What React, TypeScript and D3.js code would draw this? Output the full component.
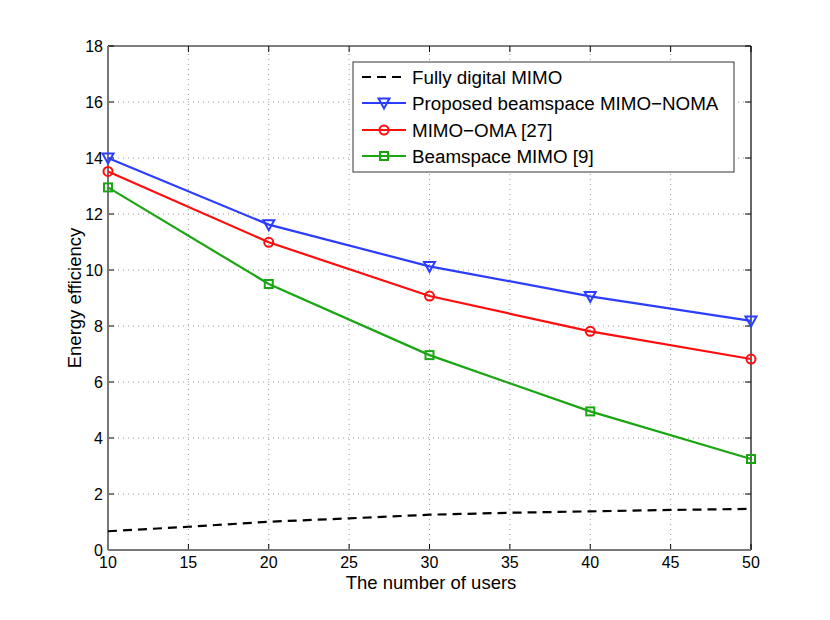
import React from 'react'
import * as d3 from 'd3'

// users on the x axis
const users = [10, 20, 30, 40, 50]
const denseUsers = [10, 15, 20, 25, 30, 35, 40, 45, 50]

const fullyDigital = [0.67, 0.83, 1.01, 1.13, 1.26, 1.33, 1.38, 1.43, 1.47]
const proposedNoma = [14.0, 11.62, 10.13, 9.06, 8.18]
const mimoOma = [13.52, 10.99, 9.07, 7.81, 6.82]
const beamspaceMimo = [12.95, 9.5, 6.96, 4.95, 3.25]

const xTicks = [10, 15, 20, 25, 30, 35, 40, 45, 50]
const yTicks = [0, 2, 4, 6, 8, 10, 12, 14, 16, 18]

const legendNames = [
  'Fully digital MIMO',
  'Proposed beamspace MIMO\u2212NOMA',
  'MIMO\u2212OMA [27]',
  'Beamspace MIMO [9]',
]

const W = 830
const H = 620
const [top, right, bottom, left] = [46, 79, 70, 108]
const font = 'Liberation Sans, Arial, Helvetica, sans-serif'

function Marker({ kind, x, y, color }: { kind: string; x: number; y: number; color: string }) {
  if (kind === 'tri') {
    const s = 5.5
    return (
      <path
        d={`M${x - s},${y - s * 0.8}L${x + s},${y - s * 0.8}L${x},${y + s}Z`}
        fill="none"
        stroke={color}
        strokeWidth={2}
      />
    )
  }
  if (kind === 'circle') {
    return <circle cx={x} cy={y} r={4.5} fill="none" stroke={color} strokeWidth={2} />
  }
  return <rect x={x - 4} y={y - 4} width={8} height={8} fill="none" stroke={color} strokeWidth={2} />
}

export default function App() {
  const x = d3.scaleLinear().domain([10, 50]).range([left, W - right])
  const y = d3.scaleLinear().domain([0, 18]).range([H - bottom, top])
  const x0 = x(10)
  const x1 = x(50)
  const y0 = y(0)
  const y1 = y(18)

  const line = d3
    .line<[number, number]>()
    .x((d) => x(d[0]))
    .y((d) => y(d[1]))

  const dashed = line(denseUsers.map((u, i) => [u, fullyDigital[i]]))

  const series = [
    { values: proposedNoma, color: '#2b3dff', kind: 'tri' },
    { values: mimoOma, color: '#ff0d0d', kind: 'circle' },
    { values: beamspaceMimo, color: '#1aa512', kind: 'square' },
  ]

  const lg = { x: 353, y: 62, w: 381, h: 110 }
  const rowY = [77, 103, 130, 156]

  return (
    <svg width={W} height={H} style={{ display: 'block', margin: -8, fontFamily: font }}>
      <rect width={W} height={H} fill="#fff" />
      {/* grid */}
      {xTicks.slice(1, -1).map((t) => (
        <line key={'gx' + t} x1={x(t)} x2={x(t)} y1={y0} y2={y1} stroke="#999" strokeWidth={1} strokeDasharray="1,4" />
      ))}
      {yTicks.slice(1, -1).map((t) => (
        <line key={'gy' + t} x1={x0} x2={x1} y1={y(t)} y2={y(t)} stroke="#999" strokeWidth={1} strokeDasharray="1,4" />
      ))}
      {/* ticks inward on all sides */}
      {xTicks.map((t) => (
        <g key={'tx' + t}>
          <line x1={x(t)} x2={x(t)} y1={y0} y2={y0 - 6} stroke="#000" />
          <line x1={x(t)} x2={x(t)} y1={y1} y2={y1 + 6} stroke="#000" />
          <text x={x(t)} y={568} fontSize={16} textAnchor="middle">
            {t}
          </text>
        </g>
      ))}
      {yTicks.map((t) => (
        <g key={'ty' + t}>
          <line x1={x0} x2={x0 + 6} y1={y(t)} y2={y(t)} stroke="#000" />
          <line x1={x1} x2={x1 - 6} y1={y(t)} y2={y(t)} stroke="#000" />
          <text x={103} y={y(t) + 5.5} fontSize={16} textAnchor="end">
            {t}
          </text>
        </g>
      ))}
      {/* box */}
      <line x1={x0} x2={x1} y1={y1} y2={y1} stroke="#000" strokeWidth={1.2} />
      <line x1={x1} x2={x1} y1={y1} y2={y0} stroke="#000" strokeWidth={1.2} />
      <line x1={x0} x2={x1} y1={y0} y2={y0} stroke="#777" strokeWidth={2} />
      <line x1={x0} x2={x0} y1={y1} y2={y0} stroke="#777" strokeWidth={2} />

      {/* data */}
      <path d={dashed ?? ''} fill="none" stroke="#000" strokeWidth={2.2} strokeDasharray="9,6" />
      {series.map((s) => (
        <g key={s.color}>
          <path
            d={line(users.map((u, i) => [u, s.values[i]])) ?? ''}
            fill="none"
            stroke={s.color}
            strokeWidth={2.2}
          />
          {users.map((u, i) => (
            <Marker key={u} kind={s.kind} x={x(u)} y={y(s.values[i])} color={s.color} />
          ))}
        </g>
      ))}

      {/* legend */}
      <rect x={lg.x} y={lg.y} width={lg.w} height={lg.h} fill="#fff" stroke="#333" strokeWidth={1} />
      <line x1={362} x2={406} y1={rowY[0]} y2={rowY[0]} stroke="#000" strokeWidth={2.2} strokeDasharray="9,6" />
      {series.map((s, i) => (
        <g key={'lg' + s.color}>
          <line x1={362} x2={406} y1={rowY[i + 1]} y2={rowY[i + 1]} stroke={s.color} strokeWidth={2.2} />
          <Marker kind={s.kind} x={384} y={rowY[i + 1]} color={s.color} />
        </g>
      ))}
      {legendNames.map((n, i) => (
        <text key={n} x={412} y={rowY[i] + 6.5} fontSize={18.8}>
          {n}
        </text>
      ))}

      {/* axis labels */}
      <text x={431} y={589} fontSize={18.5} textAnchor="middle">
        The number of users
      </text>
      <text transform={`translate(81,${(y0 + y1) / 2}) rotate(-90)`} fontSize={18.5} textAnchor="middle">
        Energy efficiency
      </text>
    </svg>
  )
}
